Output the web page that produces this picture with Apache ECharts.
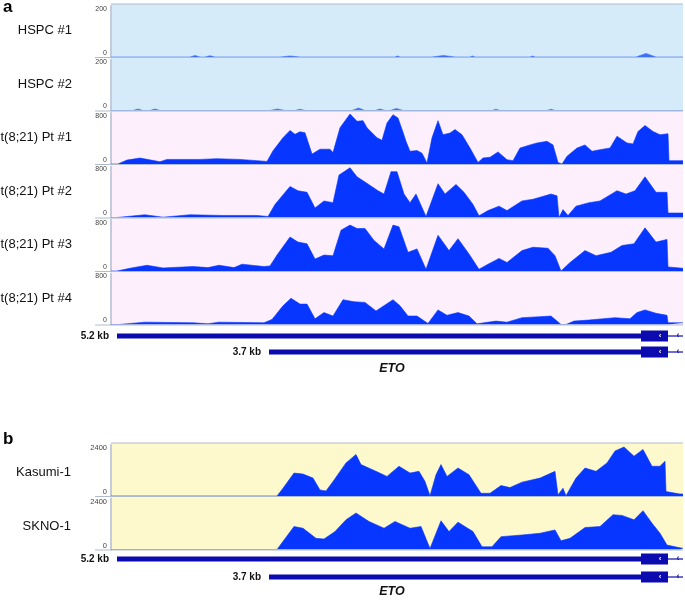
<!DOCTYPE html>
<html><head><meta charset="utf-8">
<script src="https://cdn.jsdelivr.net/npm/echarts@6/dist/echarts.min.js"></script>
<style>html,body{margin:0;padding:0;background:#fff}#c{width:685px;height:600px}</style>
</head><body><div id="c"></div><script>
// ---------- DATA ----------
const trackNamesA = ['HSPC #1','HSPC #2','t(8;21) Pt #1','t(8;21) Pt #2','t(8;21) Pt #3','t(8;21) Pt #4'];
const trackNamesB = ['Kasumi-1','SKNO-1'];
const scaleMaxA = [200,200,800,800,800,800];
const scaleMaxB = [2400,2400];
const regionLength = 572; // genomic span (arbitrary units)

// small peaks in HSPC tracks: [start, end, height]
const hspc1Peaks = [[79,89,6],[94,104,5],[169,189,4],[284,289,4],[321,344,6],[359,364,4],[419,424,4],[489,492,3],[525,545,14]];
const hspc2Peaks = [[22,32,6],[39,49,6],[73,75,4],[159,174,6],[184,194,5],[241,254,10],[264,274,6],[279,292,8],[381,389,5],[413,416,3],[436,444,5],[487,489,3],[496,498,3]];

const pt1 = [[0,0],[7,0],[16,62],[29,93],[49,36],[56,72],[89,72],[106,83],[129,72],[156,41],[162,206],[172,413],[179,526],[184,465],[189,506],[194,490],[201,155],[209,232],[219,232],[222,180],[229,568],[239,785],[246,670],[252,680],[256,568],[266,413],[271,372],[276,645],[282,774],[287,722],[292,500],[295,355],[299,200],[306,210],[311,170],[316,15],[321,410],[327,680],[332,460],[339,485],[344,540],[351,460],[359,250],[367,25],[372,95],[379,105],[387,190],[396,68],[402,52],[409,250],[419,300],[426,330],[436,355],[442,300],[447,25],[451,0],[456,120],[466,250],[474,300],[481,200],[489,225],[499,250],[506,435],[516,330],[522,315],[527,510],[534,605],[542,510],[549,460],[557,475],[558,52],[572,52]];
const pt2 = [[0,0],[6,0],[34,43],[52,5],[79,43],[112,32],[146,32],[157,16],[164,205],[179,486],[187,420],[196,395],[204,150],[213,260],[222,232],[228,665],[239,780],[246,638],[254,557],[267,420],[273,368],[280,719],[286,719],[293,368],[299,232],[305,368],[315,16],[327,530],[334,368],[345,519],[353,395],[362,205],[368,27],[377,108],[388,178],[396,108],[411,260],[422,286],[440,368],[446,340],[448,0],[452,124],[457,32],[465,178],[478,232],[489,260],[506,420],[515,368],[524,420],[534,638],[545,395],[556,395],[557,70],[572,70]];
const pt3 = [[0,0],[6,0],[19,43],[36,90],[52,48],[82,70],[97,53],[108,90],[123,53],[131,107],[153,70],[159,80],[166,250],[179,533],[187,453],[196,427],[204,187],[213,250],[222,240],[230,640],[239,720],[246,667],[254,667],[263,480],[273,347],[282,720],[288,693],[297,293],[306,347],[315,27],[327,560],[338,320],[347,507],[358,267],[368,27],[377,107],[388,197],[396,133],[411,320],[422,373],[437,357],[444,240],[450,0],[459,133],[474,320],[485,240],[500,293],[511,400],[523,427],[534,677],[545,453],[556,496],[557,64],[572,43]];
const pt4 = [[0,0],[8,0],[34,37],[82,27],[97,11],[108,37],[153,27],[161,80],[172,293],[180,411],[189,320],[196,320],[204,90],[213,187],[222,133],[232,389],[243,357],[254,347],[265,213],[282,389],[289,293],[297,133],[306,133],[317,16],[327,229],[336,144],[347,187],[358,133],[366,11],[385,53],[396,37],[411,107],[429,123],[440,133],[446,53],[450,0],[455,0],[463,53],[478,70],[504,107],[519,90],[526,187],[534,229],[545,176],[556,144],[557,27],[572,27]];
const kasumi = [[0,0],[26,0],[28,30],[30,0],[78,0],[80,25],[82,0],[166,0],[172,366],[183,1080],[192,1033],[202,842],[209,286],[215,238],[222,683],[235,1558],[245,1955],[250,1478],[265,1160],[276,922],[288,1399],[299,1081],[308,1160],[314,683],[319,16],[325,1001],[330,1478],[336,922],[347,1319],[358,1001],[370,127],[379,127],[390,493],[399,397],[411,652],[429,842],[444,1160],[447,48],[452,366],[455,16],[465,842],[474,1319],[485,1160],[496,1558],[504,2114],[513,2305],[523,1876],[532,2193],[541,1399],[549,1399],[554,1637],[555,207],[569,95],[572,95]];
const skno = [[0,0],[121,0],[123,20],[126,0],[166,0],[183,1081],[192,1001],[205,524],[213,493],[224,842],[235,1399],[245,1717],[258,1319],[273,1001],[284,1319],[299,1001],[310,1081],[319,48],[330,1351],[338,842],[347,1287],[362,842],[371,127],[381,127],[390,604],[411,683],[429,763],[444,922],[450,413],[459,524],[474,1033],[489,1081],[502,1637],[511,1605],[523,1399],[532,1828],[541,1240],[549,763],[556,207],[569,79],[572,60]];

// gene model: [start, end, transcriptRow, kind(0 = body, 1 = exon block, 2 = thin tail)]
const transcripts = ['5.2 kb','3.7 kb'];
const geneParts = [[6,530,0,0],[530,557,0,1],[557,572,0,2],[158,530,1,0],[530,557,1,1],[557,572,1,2]];
const geneName = 'ETO';

// ---------- LAYOUT ----------
const X0 = 111, PW = 572, TH = 53.5;
const topsA = [4, 57.5, 111, 164.5, 218, 271.5];
const topsB = [443, 496.5];
const bgA = ['#d6ebfa','#d6ebfa','#fdf0fc','#fdf0fc','#fdf0fc','#fdf0fc'];
const bgB = '#fef9cc';
const FILL = '#0636ff';
const GENE = '#0b0bb0';

function peaksToLine(peaks){
  const out=[[0,0]];
  peaks.forEach(p=>{const m=(p[0]+p[1])/2; out.push([p[0],0],[m,p[2]],[p[1],0]);});
  out.push([regionLength,0]);
  return out;
}
const seriesDataA = [peaksToLine(hspc1Peaks), peaksToLine(hspc2Peaks), pt1, pt2, pt3, pt4];
const seriesDataB = [kasumi, skno];

const grids=[], xAxes=[], yAxes=[], series=[], graphic=[];
function addTrack(top, max, data, fontSize, color){
  const i = grids.length;
  grids.push({left:X0, top:top+2, width:PW, height:TH-2.5, show:false});
  xAxes.push({type:'value', gridIndex:i, min:0, max:regionLength, show:false});
  yAxes.push({type:'value', gridIndex:i, min:0, max:max, interval:max,
    axisLine:{show:true, lineStyle:{color:'#c3cbdc', width:2}},
    axisTick:{show:false}, splitLine:{show:false},
    axisLabel:{margin:4, color:'#444', fontSize:fontSize, fontFamily:'Arial, Liberation Sans',
      formatter: v => v===0 ? '{lo|0}' : '{hi|'+v+'}',
      rich:{lo:{fontSize:fontSize, color:'#444', padding:[0,0,8,0]}, hi:{fontSize:fontSize, color:'#444', padding:[6,0,0,0]}}}});
  series.push({type:'line', xAxisIndex:i, yAxisIndex:i, data:data, symbol:'none', silent:true,
    lineStyle:{color:color, width:0.6}, areaStyle:{color:color, opacity:1}, z:3});
}
topsA.forEach((t,k)=>{
  graphic.push({type:'rect', shape:{x:X0, y:t, width:PW, height:TH}, style:{fill:bgA[k]}, z:-10, silent:true});
  addTrack(t, scaleMaxA[k], seriesDataA[k], 7, k<2 ? '#3f6ff2' : FILL);
  graphic.push({type:'text', x:72, y:t+TH/2, style:{text:trackNamesA[k], fill:'#111', font:'13px Arial, "Liberation Sans"', align:'right', verticalAlign:'middle'}});
  graphic.push({type:'line', shape:{x1:95, y1:t+TH, x2:683, y2:t+TH}, style:{stroke:'#aebccc', lineWidth:1}, z:10});
});
graphic.push({type:'line', shape:{x1:X0, y1:topsA[0], x2:683, y2:topsA[0]}, style:{stroke:'#aebccc', lineWidth:1}, z:10});
topsB.forEach((t,k)=>{
  graphic.push({type:'rect', shape:{x:X0, y:t, width:PW, height:TH}, style:{fill:bgB}, z:-10, silent:true});
  addTrack(t, scaleMaxB[k], seriesDataB[k], 7.5, FILL);
  graphic.push({type:'text', x:71, y:t+TH/2+3, style:{text:trackNamesB[k], fill:'#111', font:'13px Arial, "Liberation Sans"', align:'right', verticalAlign:'middle'}});
  graphic.push({type:'line', shape:{x1:95, y1:t+TH, x2:683, y2:t+TH}, style:{stroke:'#aebccc', lineWidth:1}, z:10});
});
graphic.push({type:'line', shape:{x1:X0, y1:topsB[0], x2:683, y2:topsB[0]}, style:{stroke:'#aebccc', lineWidth:1}, z:10});

function renderGene(params, api){
  const row = api.value(2), kind = api.value(3);
  const s = api.coord([api.value(0), row]), e = api.coord([api.value(1), row]);
  const h = kind===0 ? 5 : (kind===1 ? 11 : 1.2);
  const children = [{type:'rect', shape:{x:s[0], y:s[1]-h/2, width:e[0]-s[0], height:h}, style:{fill:GENE}}];
  if(kind===0){
    children.push({type:'text', x:s[0]-8, y:s[1], style:{text:transcripts[row], fill:'#111', font:'bold 10px Arial, "Liberation Sans"', align:'right', verticalAlign:'middle'}});
  } else if(kind===1){
    children.push({type:'text', x:e[0]-8, y:s[1], style:{text:'‹', fill:'#fff', font:'bold 8px Arial', align:'center', verticalAlign:'middle'}});
  } else {
    children.push({type:'text', x:e[0]-5, y:s[1], style:{text:'‹', fill:GENE, font:'bold 9px Arial', align:'center', verticalAlign:'middle'}});
  }
  return {type:'group', children:children};
}
function addGene(top, height){
  const i = grids.length;
  grids.push({left:X0, top:top, width:PW, height:height, show:false});
  xAxes.push({type:'value', gridIndex:i, min:0, max:regionLength, show:false});
  yAxes.push({type:'value', gridIndex:i, min:-0.5, max:1.5, inverse:true, show:false});
  series.push({type:'custom', xAxisIndex:i, yAxisIndex:i, data:geneParts, renderItem:renderGene, silent:true, clip:false});
}
addGene(328, 32);
addGene(550, 36);

graphic.push({type:'text', x:392, y:369, style:{text:geneName, fill:'#111', font:'italic bold 12.5px Arial, "Liberation Sans"', align:'center', verticalAlign:'middle'}});
graphic.push({type:'text', x:392, y:592, style:{text:geneName, fill:'#111', font:'italic bold 12.5px Arial, "Liberation Sans"', align:'center', verticalAlign:'middle'}});
graphic.push({type:'text', x:3, y:7, style:{text:'a', fill:'#000', font:'bold 17px Arial, "Liberation Sans"', align:'left', verticalAlign:'middle'}});
graphic.push({type:'text', x:3, y:439, style:{text:'b', fill:'#000', font:'bold 17px Arial, "Liberation Sans"', align:'left', verticalAlign:'middle'}});

const chart = echarts.init(document.getElementById('c'), null, {renderer:'canvas'});
chart.setOption({animation:false, backgroundColor:'#fff', grid:grids, xAxis:xAxes, yAxis:yAxes, series:series, graphic:graphic});
</script></body></html>
